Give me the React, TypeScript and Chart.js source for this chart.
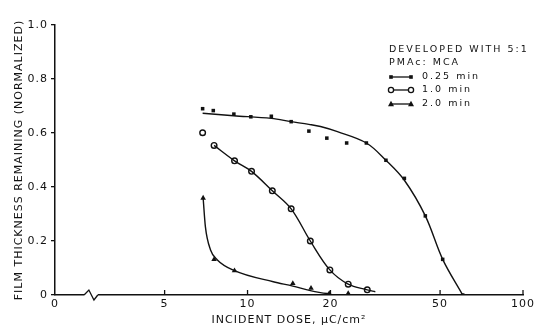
import { useEffect, useRef } from "react";
import { Chart, registerables } from "chart.js";

Chart.register(...registerables);

// ---- axis ticks ----
const X_TICKS = [2, 5, 10, 20, 50, 100];
const X_TICK_LABELS = ["0", "5", "10", "20", "50", "100"];
const Y_TICKS = [0, 0.2, 0.4, 0.6, 0.8, 1.0];
const Y_TICK_LABELS = ["0", "0.2", "0.4", "0.6", "0.8", "1.0"];
const X_TITLE = "INCIDENT DOSE, \u00B5C/cm\u00B2";
const Y_TITLE = "FILM THICKNESS REMAINING (NORMALIZED)";
const LEGEND_HEADER = ["DEVELOPED WITH 5:1", "PMAc: MCA"];
const SERIES_LABELS = ["0.25 min", "1.0 min", "2.0 min"];
const BREAK_RANGE = [2.55, 2.86];

// ---- measured points ----
const DOSE_025 = [6.87, 7.51, 8.92, 10.28, 12.2, 14.4, 16.7, 19.4, 22.9, 27.0, 31.8, 37.1, 44.2, 51.1, 60.4];
const THICK_025 = [0.69, 0.683, 0.67, 0.66, 0.662, 0.642, 0.607, 0.581, 0.563, 0.563, 0.499, 0.432, 0.293, 0.132, 0.0];

const DOSE_10 = [6.87, 7.56, 8.97, 10.34, 12.3, 14.4, 16.9, 19.9, 23.2, 27.2];
const THICK_10 = [0.601, 0.554, 0.497, 0.458, 0.386, 0.319, 0.2, 0.093, 0.04, 0.019];

const DOSE_20 = [6.9, 7.56, 8.97, 14.6, 17.0, 19.8, 23.2];
const THICK_20 = [0.359, 0.132, 0.09, 0.043, 0.025, 0.006, 0.006];

// ---- drawn (fitted) curves ----
const FIT_DOSE_025 = [6.87, 8.9, 12.2, 14.4, 16.7, 18.4, 21.2, 27.0, 31.8, 37.1, 44.2, 51.1, 60.4];
const FIT_THICK_025 = [0.673, 0.664, 0.654, 0.642, 0.632, 0.624, 0.605, 0.563, 0.499, 0.425, 0.293, 0.132, 0.0];

const FIT_DOSE_10 = [7.56, 8.97, 10.34, 12.3, 14.4, 16.9, 19.9, 23.2, 27.2, 29.1];
const FIT_THICK_10 = [0.554, 0.497, 0.458, 0.386, 0.319, 0.2, 0.093, 0.04, 0.019, 0.012];

const FIT_DOSE_20 = [6.9, 7.03, 7.34, 7.77, 8.97, 12.4, 14.6, 16.9, 18.4, 20.0];
const FIT_THICK_20 = [0.359, 0.253, 0.167, 0.13, 0.09, 0.049, 0.033, 0.016, 0.009, 0.004];

const INK = "#111111";
const FONT = "DejaVu Sans";

const pts = (xs: number[], ys: number[]) => xs.map((x, i) => ({ x, y: ys[i] }));

function drawMarker(ctx: CanvasRenderingContext2D, kind: number, x: number, y: number) {
  ctx.save();
  ctx.fillStyle = INK;
  ctx.strokeStyle = INK;
  ctx.lineWidth = 1.3;
  if (kind === 0) {
    ctx.fillRect(x - 1.8, y - 1.8, 3.6, 3.6);
  } else if (kind === 1) {
    ctx.fillStyle = "#fff";
    ctx.beginPath();
    ctx.arc(x, y, 2.6, 0, Math.PI * 2);
    ctx.fill();
    ctx.stroke();
  } else {
    ctx.beginPath();
    ctx.moveTo(x, y - 3.2);
    ctx.lineTo(x + 3, y + 2.2);
    ctx.lineTo(x - 3, y + 2.2);
    ctx.closePath();
    ctx.fill();
  }
  ctx.restore();
}

const spacingPlugin = {
  id: "spacing",
  beforeDraw(chart: any) {
    chart.ctx.letterSpacing = "1px";
  },
};

const decorPlugin = {
  id: "decor",
  afterDraw(chart: any) {
    const ctx: CanvasRenderingContext2D = chart.ctx;
    const xs = chart.scales.x;
    const y0 = chart.chartArea.bottom;
    ctx.save();
    ctx.letterSpacing = "0px";
    ctx.strokeStyle = INK;
    ctx.lineWidth = 1.3;
    // inside tick marks on x axis
    X_TICKS.slice(1).forEach((v) => {
      const px = xs.getPixelForValue(v);
      ctx.beginPath();
      ctx.moveTo(px, y0);
      ctx.lineTo(px, y0 - 5);
      ctx.stroke();
    });
    // axis break zigzag
    const a = xs.getPixelForValue(BREAK_RANGE[0]);
    const b = xs.getPixelForValue(BREAK_RANGE[1]);
    ctx.fillStyle = "#fff";
    ctx.fillRect(a, y0 - 2, b - a, 4);
    ctx.beginPath();
    ctx.moveTo(a, y0);
    ctx.lineTo(a + (b - a) * 0.35, y0 - 5);
    ctx.lineTo(a + (b - a) * 0.72, y0 + 5);
    ctx.lineTo(b, y0);
    ctx.stroke();

    // legend
    ctx.letterSpacing = "2px";
    ctx.fillStyle = INK;
    ctx.font = `9.5px "${FONT}"`;
    ctx.textBaseline = "middle";
    ctx.textAlign = "left";
    ctx.fillText(LEGEND_HEADER[0], 389, 50);
    ctx.fillText(LEGEND_HEADER[1], 389, 63);
    const rows = [77, 90, 104];
    SERIES_LABELS.forEach((lab, i) => {
      const y = rows[i];
      ctx.beginPath();
      ctx.moveTo(391, y);
      ctx.lineTo(411, y);
      ctx.stroke();
      drawMarker(ctx, i, 391, y);
      drawMarker(ctx, i, 411, y);
      ctx.fillText(lab, 422, y);
    });
    ctx.restore();
  },
};

export default function App() {
  const ref = useRef<HTMLCanvasElement>(null);
  useEffect(() => {
    if (!ref.current) return;
    Chart.defaults.font.family = FONT;
    Chart.defaults.color = INK;
    const lineDs = (xs: number[], ys: number[], mono: boolean) => ({
      data: pts(xs, ys),
      showLine: true,
      borderColor: INK,
      borderWidth: 1.4,
      pointRadius: 0,
      tension: 0.35,
      cubicInterpolationMode: mono ? ("monotone" as const) : ("default" as const),
      fill: false,
    });
    const chart = new Chart(ref.current, {
      type: "scatter",
      data: {
        datasets: [
          lineDs(FIT_DOSE_025, FIT_THICK_025, false),
          lineDs(FIT_DOSE_10, FIT_THICK_10, false),
          lineDs(FIT_DOSE_20, FIT_THICK_20, true),
          {
            label: SERIES_LABELS[0],
            data: pts(DOSE_025, THICK_025),
            pointStyle: "rect",
            pointRadius: 2.5,
            backgroundColor: INK,
            borderColor: INK,
            borderWidth: 0,
          },
          {
            label: SERIES_LABELS[1],
            data: pts(DOSE_10, THICK_10),
            pointStyle: "circle",
            pointRadius: 2.8,
            backgroundColor: "#fff",
            borderColor: INK,
            borderWidth: 1.4,
          },
          {
            label: SERIES_LABELS[2],
            data: pts(DOSE_20, THICK_20),
            pointStyle: "triangle",
            pointRadius: 3.2,
            backgroundColor: INK,
            borderColor: INK,
            borderWidth: 0,
          },
        ],
      },
      options: {
        animation: false,
        responsive: true,
        maintainAspectRatio: false,
        layout: { padding: { top: 25, right: 13, left: 0, bottom: 0 } },
        plugins: { legend: { display: false }, tooltip: { enabled: false } },
        scales: {
          x: {
            type: "logarithmic",
            min: 2,
            max: 100,
            afterBuildTicks: (s: any) => {
              s.ticks = X_TICKS.map((v) => ({ value: v }));
            },
            afterFit: (s: any) => {
              s.height = 39;
              s.paddingLeft = 0;
              s.paddingRight = 0;
              s.paddingTop = 0;
              s.paddingBottom = 0;
            },
            ticks: {
              autoSkip: false,
              maxRotation: 0,
              padding: 3,
              font: { size: 11 },
              color: INK,
              callback: (v: any) => {
                const i = X_TICKS.indexOf(Number(v));
                return i >= 0 ? X_TICK_LABELS[i] : "";
              },
            },
            grid: { drawOnChartArea: false, drawTicks: false, color: INK },
            border: { display: true, color: INK, width: 1.5 },
            title: {
              display: true,
              text: X_TITLE,
              font: { size: 11 },
              color: INK,
              padding: { top: 0, bottom: 7 },
            },
          },
          y: {
            type: "linear",
            min: 0,
            max: 1,
            afterBuildTicks: (s: any) => {
              s.ticks = Y_TICKS.map((v) => ({ value: v }));
            },
            afterFit: (s: any) => {
              s.width = 55;
              s.paddingTop = 0;
              s.paddingBottom = 0;
              s.paddingLeft = 0;
              s.paddingRight = 0;
            },
            ticks: {
              padding: 3,
              font: { size: 11 },
              color: INK,
              callback: (v: any) => {
                const i = Y_TICKS.findIndex((t) => Math.abs(t - Number(v)) < 1e-6);
                return i >= 0 ? Y_TICK_LABELS[i] : "";
              },
            },
            grid: { drawOnChartArea: false, drawTicks: true, tickLength: 4, color: INK, lineWidth: 1.3 },
            border: { display: true, color: INK, width: 1.5 },
            title: {
              display: true,
              text: Y_TITLE,
              font: { size: 11 },
              color: INK,
              padding: { top: 13, bottom: 0 },
            },
          },
        },
      },
      plugins: [spacingPlugin, decorPlugin],
    });
    return () => chart.destroy();
  }, []);
  return (
    <div style={{ position: "fixed", left: 0, top: 0, width: 536, height: 334, background: "#fff" }}>
      <canvas ref={ref} />
    </div>
  );
}
